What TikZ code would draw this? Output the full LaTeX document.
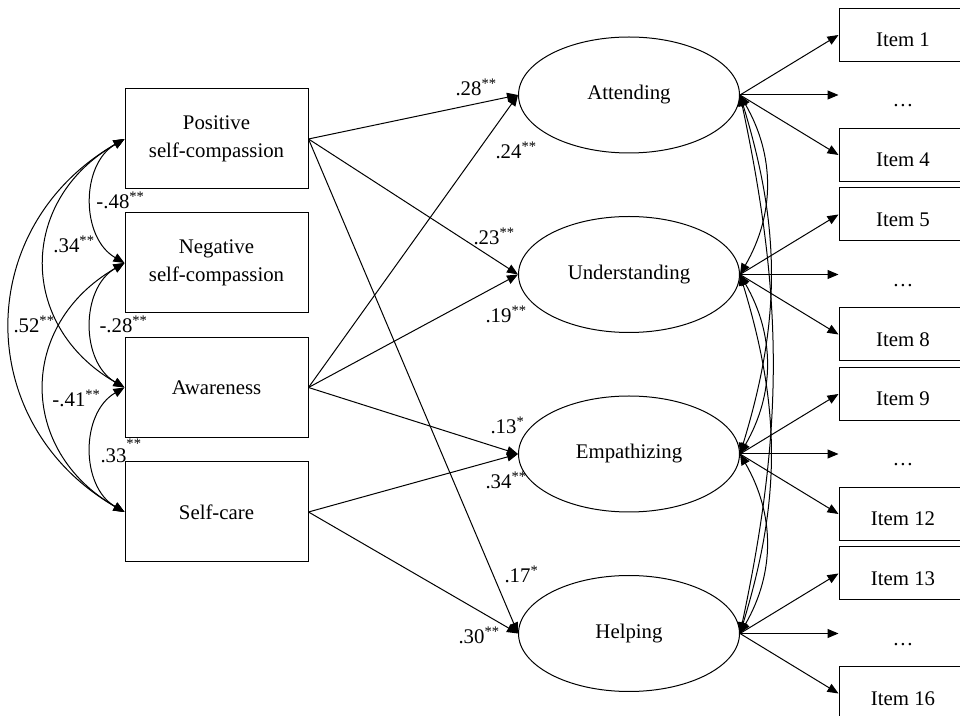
\documentclass[tikz,border=0pt]{standalone}
\usepackage{fontspec}
\setmainfont{Liberation Serif}
\usetikzlibrary{shapes.geometric,arrows.meta}

\begin{document}
\begin{tikzpicture}[x=0.5pt,y=-0.5pt,
        font=\fontsize{10.4pt}{13.8pt}\selectfont,
        line width=0.5pt,
        obs/.style={draw, minimum width=91.5pt, minimum height=50pt, align=center, inner sep=0pt},
        lat/.style={draw, ellipse, minimum width=110.5pt, minimum height=58pt, inner sep=0pt},
        item/.style={draw, minimum width=64pt, minimum height=26.5pt, inner sep=0pt, text height=12pt, text depth=0pt},
        itemdots/.style={item, draw=none},
        coef/.style={anchor=base west, inner sep=0pt},
        reg/.style={-{Triangle[length=5.5pt,width=4.5pt]}},
        cov/.style={{Triangle[length=5.5pt,width=4.5pt]}-{Triangle[length=5.5pt,width=4.5pt]}}]
        \useasboundingbox (0,0) rectangle (960,716);
        \clip (0,0) rectangle (960,716);

        % ~~~~ Observadas ~~~~ %
        \node[obs] (pos) at (216.5,139) {Positive\\self-compassion};
        \node[obs] (neg) at (216.5,263) {Negative\\self-compassion};
        \node[obs] (awa) at (216.5,387.5) {Awareness};
        \node[obs] (sca) at (216.5,512) {Self-care};

        % ~~~~ Latentes ~~~~ %
        \node[lat] (att) at (629,95) {Attending};
        \node[lat] (und) at (629,274.5) {Understanding};
        \node[lat] (emp) at (629,454) {Empathizing};
        \node[lat] (hel) at (629,633.5) {Helping};

        % ~~~~ Items ~~~~ %
        \node[item] (i1) at (903,35) {Item 1};
        \node[itemdots] (d1) at (903,95) {…};
        \node[item] (i4) at (903,155) {Item 4};
        \node[item] (i5) at (903,214.5) {Item 5};
        \node[itemdots] (d2) at (903,274.5) {…};
        \node[item] (i8) at (903,334.5) {Item 8};
        \node[item] (i9) at (903,394) {Item 9};
        \node[itemdots] (d3) at (903,454) {…};
        \node[item] (i12) at (903,514) {Item 12};
        \node[item] (i13) at (903,573.5) {Item 13};
        \node[itemdots] (d4) at (903,633.5) {…};
        \node[item] (i16) at (903,693.5) {Item 16};

        \draw[reg] (att.east) -- (i1.west);
        \draw[reg] (att.east) -- (d1.west);
        \draw[reg] (att.east) -- (i4.west);
        \draw[reg] (und.east) -- (i5.west);
        \draw[reg] (und.east) -- (d2.west);
        \draw[reg] (und.east) -- (i8.west);
        \draw[reg] (emp.east) -- (i9.west);
        \draw[reg] (emp.east) -- (d3.west);
        \draw[reg] (emp.east) -- (i12.west);
        \draw[reg] (hel.east) -- (i13.west);
        \draw[reg] (hel.east) -- (d4.west);
        \draw[reg] (hel.east) -- (i16.west);

        % ~~~~ Caminos ~~~~ %
        \draw[reg] (pos.east) -- (att.west);
        \draw[reg] (pos.east) -- (und.west);
        \draw[reg] (pos.east) -- (hel.west);
        \draw[reg] (awa.east) -- (att.west);
        \draw[reg] (awa.east) -- (und.west);
        \draw[reg] (awa.east) -- (emp.west);
        \draw[reg] (sca.east) -- (emp.west);
        \draw[reg] (sca.east) -- (hel.west);

        \node[coef] (c28) at (455,96) {.28\textsuperscript{**}};
        \node[coef] (c24) at (495,159) {.24\textsuperscript{**}};
        \node[coef] (c23) at (473,245) {.23\textsuperscript{**}};
        \node[coef] (c19) at (485,323) {.19\textsuperscript{**}};
        \node[coef] (c13) at (490,434) {.13\textsuperscript{*}};
        \node[coef] (c34) at (485,489) {.34\textsuperscript{**}};
        \node[coef] (c17) at (504,583) {.17\textsuperscript{*}};
        \node[coef] (c30) at (458,644) {.30\textsuperscript{**}};

        % ~~~~ Covarianzas ~~~~ %
        \draw[cov] (pos.west) to[bend right=60, looseness=1.05] (neg.west);
        \draw[cov] (neg.west) to[bend right=60, looseness=1.05] (awa.west);
        \draw[cov] (awa.west) to[bend right=60, looseness=1.05] (sca.west);
        \draw[cov] (pos.west) to[bend right=60, looseness=1.27] (awa.west);
        \draw[cov] (neg.west) to[bend right=60, looseness=1.27] (sca.west);
        \draw[cov] (pos.west) to[bend right=60, looseness=1.21] (sca.west);

        \node[coef] (r48) at (96,209) {-.48\textsuperscript{**}};
        \node[coef] (r34) at (53,253) {.34\textsuperscript{**}};
        \node[coef] (r52) at (13,333) {.52\textsuperscript{**}};
        \node[coef] (r28) at (99,333) {-.28\textsuperscript{**}};
        \node[coef] (r41) at (52,407) {-.41\textsuperscript{**}};
        \node[coef] (r33) at (100,463) {.33\textsuperscript{\raisebox{3.5pt}{**}}};

        \draw[cov] (att.east) to[bend left=30] (und.east);
        \draw[cov] (und.east) to[bend left=30] (emp.east);
        \draw[cov] (emp.east) to[bend left=30] (hel.east);
        \draw[cov] (att.east) to[bend left=17] (emp.east);
        \draw[cov] (und.east) to[bend left=17] (hel.east);
        \draw[cov] (att.east) to[bend left=12] (hel.east);
\end{tikzpicture}
\end{document}
